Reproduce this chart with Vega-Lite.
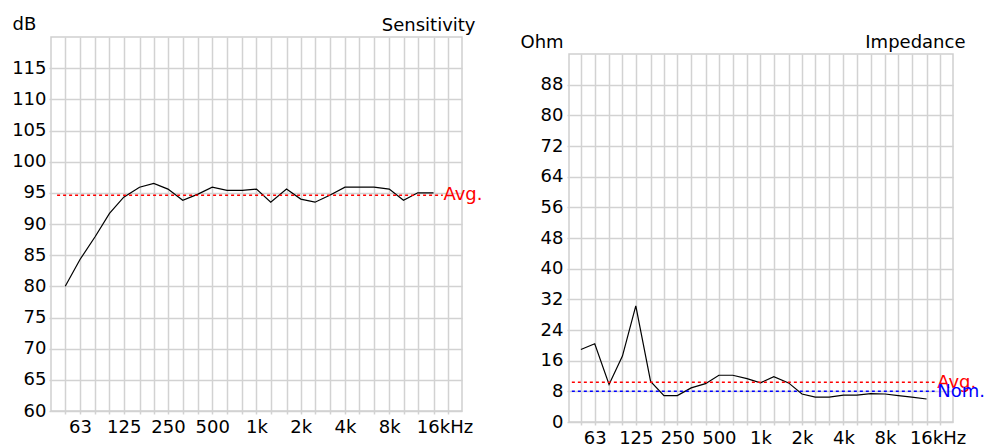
{
  "$schema": "https://vega.github.io/schema/vega-lite/v6.json",
  "padding": {"left": 10, "top": 14, "right": 2, "bottom": 2},
  "config": {
    "font": "DejaVu Sans",
    "view": {"stroke": "#cfcfcf", "strokeWidth": 1.5},
    "axis": {
      "labelFont": "DejaVu Sans", "labelFontSize": 18, "labelColor": "#000",
      "gridColor": "#d2d2d2", "gridWidth": 1.5,
      "tickColor": "#d2d2d2", "tickWidth": 1.5,
      "domain": false, "labelOverlap": false,
      "titleFont": "DejaVu Sans", "titleFontSize": 18, "titleFontWeight": "normal", "titleColor": "#000"
    }
  },
  "datasets": {
    "sens": [
      {"freq": 50, "dB": 80}, {"freq": 63, "dB": 84.3}, {"freq": 80, "dB": 88.0}, {"freq": 100, "dB": 91.7},
      {"freq": 125, "dB": 94.3}, {"freq": 160, "dB": 95.9}, {"freq": 200, "dB": 96.5}, {"freq": 250, "dB": 95.6},
      {"freq": 315, "dB": 93.8}, {"freq": 400, "dB": 94.8}, {"freq": 500, "dB": 95.9}, {"freq": 630, "dB": 95.4},
      {"freq": 800, "dB": 95.4}, {"freq": 1000, "dB": 95.6}, {"freq": 1250, "dB": 93.5}, {"freq": 1600, "dB": 95.6},
      {"freq": 2000, "dB": 94.0}, {"freq": 2500, "dB": 93.5}, {"freq": 3150, "dB": 94.6}, {"freq": 4000, "dB": 95.9},
      {"freq": 5000, "dB": 95.9}, {"freq": 6300, "dB": 95.9}, {"freq": 8000, "dB": 95.6}, {"freq": 10000, "dB": 93.8},
      {"freq": 12500, "dB": 95.0}, {"freq": 16000, "dB": 95.0}
    ],
    "imp": [
      {"freq": 50, "ohm": 18.9}, {"freq": 63, "ohm": 20.4}, {"freq": 80, "ohm": 9.8}, {"freq": 100, "ohm": 17.2},
      {"freq": 125, "ohm": 30.3}, {"freq": 160, "ohm": 10.6}, {"freq": 200, "ohm": 6.9}, {"freq": 250, "ohm": 6.9},
      {"freq": 315, "ohm": 8.9}, {"freq": 400, "ohm": 10.0}, {"freq": 500, "ohm": 12.2}, {"freq": 630, "ohm": 12.2},
      {"freq": 800, "ohm": 11.3}, {"freq": 1000, "ohm": 10.2}, {"freq": 1250, "ohm": 11.8}, {"freq": 1600, "ohm": 10.2},
      {"freq": 2000, "ohm": 7.3}, {"freq": 2500, "ohm": 6.5}, {"freq": 3150, "ohm": 6.5}, {"freq": 4000, "ohm": 7.0},
      {"freq": 5000, "ohm": 7.0}, {"freq": 6300, "ohm": 7.4}, {"freq": 8000, "ohm": 7.3}, {"freq": 10000, "ohm": 6.9},
      {"freq": 12500, "ohm": 6.5}, {"freq": 16000, "ohm": 6.0}
    ],
    "sensRef": [{"label": "Avg.", "value": 94.6}],
    "impRef": [{"label": "Avg.", "value": 10.4}, {"label": "Nom.", "value": 8}]
  },
  "bounds": "flush",
  "spacing": 107,
  "hconcat": [
    {
      "width": 411,
      "height": 374,
      "resolve": {"axis": {"y": "independent"}},
      "layer": [
        {
          "data": {"name": "sens"},
          "mark": {"type": "line", "color": "#000", "strokeWidth": 1.2},
          "encoding": {
            "x": {
              "field": "freq", "type": "quantitative",
              "scale": {"type": "log", "domain": [40, 25000], "nice": false},
              "axis": {
                "values": [50, 63, 80, 100, 125, 160, 200, 250, 315, 400, 500, 630, 800, 1000, 1250, 1600, 2000, 2500, 3150, 4000, 5000, 6300, 8000, 10000, 12500, 16000, 20000],
                "labelExpr": "datum.value == 16000 ? '16kHz' : indexof([63,125,250,500], datum.value) >= 0 ? datum.value + '' : indexof([1000,2000,4000,8000], datum.value) >= 0 ? (datum.value/1000) + 'k' : ''",
                "labelOffset": {"condition": {"test": "datum.value == 16000", "value": 11}, "value": 0},
                "grid": true, "tickSize": 3, "labelPadding": 4,
                "labelBound": false, "labelFlush": false, "title": null
              }
            },
            "y": {
              "field": "dB", "type": "quantitative",
              "scale": {"domain": [60, 120], "nice": false, "zero": false},
              "axis": {
                "values": [60, 65, 70, 75, 80, 85, 90, 95, 100, 105, 110, 115],
                "title": "dB", "titleAngle": 0, "titleAlign": "left", "titleBaseline": "alphabetic",
                "titleX": -39, "titleY": -8, "tickSize": 2, "labelPadding": 3
              }
            }
          }
        },
        {
          "data": {"name": "sensRef"},
          "mark": {"type": "rule", "strokeDash": [3, 3], "strokeWidth": 1.5},
          "encoding": {
            "x": {"datum": 44}, "x2": {"datum": 18500},
            "y": {
              "field": "value", "type": "quantitative",
              "axis": {
                "orient": "right", "values": [], "grid": false, "ticks": false, "labels": false,
                "title": "Sensitivity", "titleAngle": 0, "titleAlign": "right", "titleBaseline": "alphabetic",
                "titleX": 13, "titleY": -7
              }
            },
            "color": {"field": "label", "type": "nominal", "scale": {"domain": ["Avg.", "Nom."], "range": ["#ff0000", "#0000ff"]}, "legend": null}
          }
        },
        {
          "data": {"name": "sensRef"},
          "mark": {"type": "text", "align": "left", "baseline": "middle", "fontSize": 18},
          "encoding": {
            "x": {"datum": 18700},
            "y": {"field": "value", "type": "quantitative", "axis": null},
            "text": {"field": "label"},
            "color": {"field": "label", "type": "nominal", "scale": {"domain": ["Avg.", "Nom."], "range": ["#ff0000", "#0000ff"]}, "legend": null}
          }
        }
      ]
    },
    {
      "bounds": "flush",
      "spacing": 0,
      "vconcat": [
        {
          "width": 384,
          "height": 17,
          "view": {"stroke": null},
          "data": {"values": []},
          "mark": "point"
        },
        {
          "width": 384,
          "height": 368,
          "resolve": {"axis": {"y": "independent"}},
          "layer": [
            {
              "data": {"name": "imp"},
              "mark": {"type": "line", "color": "#000", "strokeWidth": 1.2},
              "encoding": {
                "x": {
                  "field": "freq", "type": "quantitative",
                  "scale": {"type": "log", "domain": [41, 24870], "nice": false},
                  "axis": {
                    "values": [50, 63, 80, 100, 125, 160, 200, 250, 315, 400, 500, 630, 800, 1000, 1250, 1600, 2000, 2500, 3150, 4000, 5000, 6300, 8000, 10000, 12500, 16000, 20000],
                    "labelExpr": "datum.value == 16000 ? '16kHz' : indexof([63,125,250,500], datum.value) >= 0 ? datum.value + '' : indexof([1000,2000,4000,8000], datum.value) >= 0 ? (datum.value/1000) + 'k' : ''",
                    "labelOffset": {"condition": {"test": "datum.value == 16000", "value": 11}, "value": 0},
                    "grid": true, "tickSize": 3, "labelPadding": 4,
                    "labelBound": false, "labelFlush": false, "title": null
                  }
                },
                "y": {
                  "field": "ohm", "type": "quantitative",
                  "scale": {"domain": [0, 96], "nice": false},
                  "axis": {
                    "values": [0, 8, 16, 24, 32, 40, 48, 56, 64, 72, 80, 88],
                    "title": "Ohm", "titleAngle": 0, "titleAlign": "left", "titleBaseline": "alphabetic",
                    "titleX": -49, "titleY": -7, "tickSize": 2, "labelPadding": 4
                  }
                }
              }
            },
            {
              "data": {"name": "impRef"},
              "mark": {"type": "rule", "strokeDash": [3, 3], "strokeWidth": 1.5},
              "encoding": {
                "x": {"datum": 43}, "x2": {"datum": 18300},
                "y": {
                  "field": "value", "type": "quantitative",
                  "axis": {
                    "orient": "right", "values": [], "grid": false, "ticks": false, "labels": false,
                    "title": "Impedance", "titleAngle": 0, "titleAlign": "right", "titleBaseline": "alphabetic",
                    "titleX": 12, "titleY": -7
                  }
                },
                "color": {"field": "label", "type": "nominal", "scale": {"domain": ["Avg.", "Nom."], "range": ["#ff0000", "#0000ff"]}, "legend": null}
              }
            },
            {
              "data": {"name": "impRef"},
              "mark": {"type": "text", "align": "left", "baseline": "middle", "fontSize": 18, "dy": 1},
              "encoding": {
                "x": {"datum": 19100},
                "y": {"field": "value", "type": "quantitative", "axis": null},
                "text": {"field": "label"},
                "color": {"field": "label", "type": "nominal", "scale": {"domain": ["Avg.", "Nom."], "range": ["#ff0000", "#0000ff"]}, "legend": null}
              }
            }
          ]
        }
      ]
    }
  ]
}
